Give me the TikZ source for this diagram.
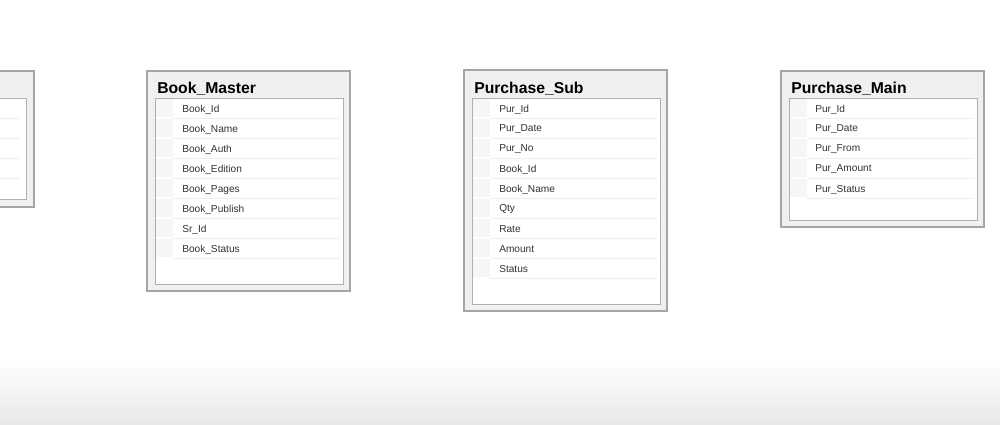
\documentclass[tikz,border=0pt]{standalone}
\usepackage{fontspec}
\setmainfont{Liberation Sans}
\definecolor{framegrey}{RGB}{165,165,165}
\definecolor{framefill}{RGB}{240,240,240}
\definecolor{panelgrey}{RGB}{175,175,175}
\definecolor{rowgrey}{RGB}{238,238,238}
\definecolor{guttergrey}{RGB}{246,246,246}
\definecolor{fieldgrey}{RGB}{50,50,50}

\begin{document}
\begin{tikzpicture}[x=0.75pt, y=-0.75pt,
    frame/.style={draw=framegrey, fill=framefill, line width=0.9pt},
    panel/.style={draw=panelgrey, fill=white, line width=0.7pt},
    rowline/.style={draw=rowgrey, line width=0.7pt},
    tabletitle/.style={anchor=west, inner sep=0pt, font=\bfseries\fontsize{11.8}{13}\selectfont},
    field/.style={anchor=west, inner sep=0pt, text=fieldgrey, font=\fontsize{7.6}{9}\selectfont}]
    % Page size and background
    \useasboundingbox (0,0) rectangle (1000,425);
    \clip (0,0) rectangle (1000,425);
    \fill[white] (0,0) rectangle (1000,425);
    \shade[top color=white, bottom color=black!9] (0,360) rectangle (1000,425);

    % Table cut off at the left edge
    \draw[frame] (-60,71) rectangle (34,207);
    \draw[panel] (-60,98) rectangle (26,199);
    \foreach \i in {1,...,4} {
        \draw[rowline] (-10,{98+20*\i}) -- (20,{98+20*\i});
    }

    % Book_Master
    \draw[frame] (147,71) rectangle (350,291);
    \draw[panel] (155,98) rectangle (343,284);
    \node[tabletitle] (bmtitle) at (157,89) {Book\_Master};
    \foreach \f [count=\i] in {Book\_Id, Book\_Name, Book\_Auth, Book\_Edition,
                               Book\_Pages, Book\_Publish, Sr\_Id, Book\_Status} {
        \fill[guttergrey] (156,{99+20*(\i-1)}) rectangle (173,{97+20*\i});
        \draw[rowline] (173,{98+20*\i}) -- (340,{98+20*\i});
        \node[field] (bm-\i) at (182,{89.5+20*\i}) {\f};
    }

    % Purchase_Sub
    \draw[frame] (464,70) rectangle (667,311);
    \draw[panel] (472,98) rectangle (660,304);
    \node[tabletitle] (pstitle) at (474,89) {Purchase\_Sub};
    \foreach \f [count=\i] in {Pur\_Id, Pur\_Date, Pur\_No, Book\_Id, Book\_Name,
                               Qty, Rate, Amount, Status} {
        \fill[guttergrey] (473,{99+20*(\i-1)}) rectangle (490,{97+20*\i});
        \draw[rowline] (490,{98+20*\i}) -- (657,{98+20*\i});
        \node[field] (ps-\i) at (499,{89.5+20*\i}) {\f};
    }

    % Purchase_Main
    \draw[frame] (781,71) rectangle (984,227);
    \draw[panel] (789,98) rectangle (977,220);
    \node[tabletitle] (pmtitle) at (791,89) {Purchase\_Main};
    \foreach \f [count=\i] in {Pur\_Id, Pur\_Date, Pur\_From, Pur\_Amount, Pur\_Status} {
        \fill[guttergrey] (790,{99+20*(\i-1)}) rectangle (807,{97+20*\i});
        \draw[rowline] (807,{98+20*\i}) -- (974,{98+20*\i});
        \node[field] (pm-\i) at (815,{89.5+20*\i}) {\f};
    }
\end{tikzpicture}
\end{document}
